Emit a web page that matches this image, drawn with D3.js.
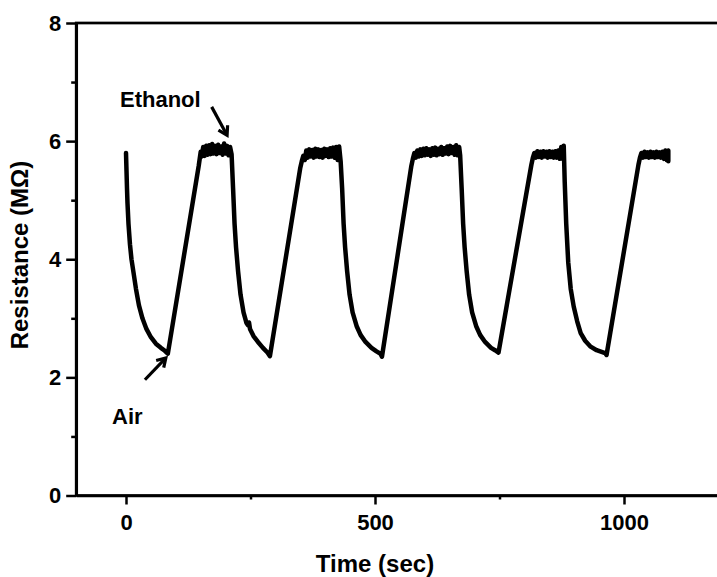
<!DOCTYPE html>
<html lang="en">
    <head>
        <meta charset="utf-8">
        <script src="https://d3js.org/d3.v7.min.js"></script>
        <title>Resistance</title>
        <style>
            body { margin: 0; background: #fff; }
            text { font-family: "Liberation Sans", Arial, sans-serif; font-weight: bold; fill: #000; }
        </style>
    </head>
    <body>
        <div id="chart"></div>
        <script>
            // [time (sec), resistance (MOhm)], one array per air/ethanol cycle
            var cycle1 = [[0,5.80],[1,5.50],[2,5.20],[3,4.95],[5,4.60],[8,4.25],[11,4.00],[15,3.78],[20,3.50],[26,3.22],[33,3.00],[41,2.82],[50,2.68],[60,2.57],[70,2.50],[78,2.45],[84,2.40],
                [146,5.58],[148,5.70],[150,5.82],[152,5.74],[155,5.90],[158,5.75],[161,5.92],[164,5.77],[167,5.93],[170,5.78],[173,5.95],[176,5.79],[179,5.92],[182,5.78],[185,5.94],[188,5.80],[191,5.91],[194,5.77],[197,5.96],[200,5.79],[203,5.92],[206,5.76],[209,5.90],[212,5.78]];
            var cycle2 = [[215,5.20],[218,4.60],[221,4.20],[225,3.80],[230,3.40],[236,3.10],[242,2.92],[245,2.88],[247,2.93],[249,2.82],[256,2.70],[265,2.60],[275,2.50],[284,2.42],[289,2.36],
                [350,5.55],[353,5.66],[356,5.75],[359,5.68],[362,5.84],[365,5.72],[368,5.86],[371,5.74],[374,5.85],[377,5.72],[380,5.87],[383,5.74],[386,5.86],[389,5.73],[392,5.85],[395,5.72],[398,5.87],[401,5.75],[404,5.86],[407,5.73],[410,5.88],[413,5.74],[416,5.89],[419,5.72],[422,5.90],[425,5.68],[428,5.91],[431,5.66]];
            var cycle3 = [[434,5.20],[437,4.60],[440,4.20],[444,3.80],[449,3.40],[455,3.10],[463,2.87],[471,2.72],[481,2.60],[493,2.50],[503,2.44],[511,2.40],[514,2.35],
                [573,5.58],[576,5.70],[579,5.80],[582,5.72],[585,5.84],[588,5.74],[591,5.86],[594,5.75],[597,5.87],[600,5.76],[603,5.88],[606,5.77],[609,5.86],[612,5.75],[615,5.88],[618,5.77],[621,5.89],[624,5.76],[627,5.87],[630,5.78],[633,5.90],[636,5.77],[639,5.88],[642,5.79],[645,5.91],[648,5.78],[651,5.92],[654,5.80],[657,5.90],[660,5.77],[663,5.93],[666,5.76],[669,5.90],[671,5.76]];
            var cycle4 = [[674,5.20],[677,4.60],[680,4.20],[684,3.80],[689,3.40],[695,3.10],[703,2.87],[711,2.72],[721,2.60],[733,2.50],[741,2.46],[748,2.42],
                [814,5.60],[817,5.72],[820,5.80],[823,5.72],[826,5.83],[829,5.73],[832,5.82],[835,5.72],[838,5.83],[841,5.74],[844,5.82],[847,5.72],[850,5.83],[853,5.73],[856,5.82],[859,5.72],[862,5.83],[865,5.72],[868,5.84],[871,5.70],[874,5.90],[877,5.70],[879,5.92]];
            var cycle5 = [[881,5.30],[884,4.60],[888,3.95],[893,3.50],[899,3.20],[906,2.95],[913,2.75],[922,2.62],[933,2.52],[945,2.46],[955,2.43],[962,2.41],[965,2.38],
                [1029,5.60],[1032,5.72],[1035,5.80],[1038,5.72],[1041,5.82],[1044,5.73],[1047,5.81],[1050,5.72],[1053,5.82],[1056,5.73],[1059,5.81],[1062,5.72],[1065,5.82],[1068,5.73],[1071,5.81],[1074,5.72],[1077,5.82],[1080,5.70],[1083,5.84],[1086,5.68],[1089,5.84],[1089,5.66]];

            var xTicks = [0, 500, 1000], xMinor = [250, 750];
            var yTicks = [0, 2, 4, 6, 8], yMinor = [1, 3, 5, 7];

            // annotations, in data units
            var noteText = ["Ethanol", "Air"];
            var notePos = [[-12, 6.58], [-28, 1.21]];
            var arrows = [[[172, 6.58], [203, 6.10]], [[38, 1.96], [80, 2.33]]];

            var margin = {top: 23, left: 76.2},
                width = 647.4,
                height = 472.5;

            var svg = d3.select("#chart")
                .append("svg")
                    .attr("width", 717)
                    .attr("height", 577)
                .append("g")
                    .attr("transform", "translate(" + margin.left + "," + margin.top + ")");

            var x = d3.scaleLinear().domain([-100, 1200]).range([0, width]);
            var y = d3.scaleLinear().domain([0, 8]).range([height, 0]);

            function styleAxis(g, label) {
                g.select(".domain").attr("stroke-width", 2.7);
                g.selectAll(".tick line").attr("stroke-width", 2.5);
                g.selectAll(".tick text").style("font-size", "22px");
                if (!label) g.select(".domain").remove();
            }

            // frame
            svg.append("rect")
                .attr("width", width)
                .attr("height", height)
                .attr("fill", "none")
                .attr("stroke", "#000")
                .attr("stroke-width", 2.7);

            svg.append("g")
                .attr("transform", "translate(0," + height + ")")
                .call(d3.axisBottom(x).tickValues(xMinor).tickSize(4).tickSizeOuter(0).tickFormat(""))
                .call(styleAxis, false);
            svg.append("g")
                .attr("transform", "translate(0," + height + ")")
                .call(d3.axisBottom(x).tickValues(xTicks).tickSize(9).tickSizeOuter(0).tickPadding(10).tickFormat(d3.format("d")))
                .call(styleAxis, true);

            svg.append("g")
                .call(d3.axisLeft(y).tickValues(yMinor).tickSize(5).tickSizeOuter(0).tickFormat(""))
                .call(styleAxis, false);
            svg.append("g")
                .call(d3.axisLeft(y).tickValues(yTicks).tickSize(10).tickSizeOuter(0).tickPadding(5).tickFormat(d3.format("d")))
                .call(styleAxis, true);

            var line = d3.line()
                .x(function(d) { return x(d[0]); })
                .y(function(d) { return y(d[1]); });

            svg.append("path")
                .datum(cycle1.concat(cycle2, cycle3, cycle4, cycle5))
                .attr("d", line)
                .attr("fill", "none")
                .attr("stroke", "#000")
                .attr("stroke-width", 4.5)
                .attr("stroke-linejoin", "round")
                .attr("stroke-linecap", "round");

            // labels and arrows
            svg.selectAll(".note")
                .data(noteText)
                .enter()
                .append("text")
                    .attr("class", "note")
                    .attr("x", function(d, i) { return x(notePos[i][0]); })
                    .attr("y", function(d, i) { return y(notePos[i][1]); })
                    .style("font-size", "22px")
                    .text(function(d) { return d; });

            arrows.forEach(function(a) {
                var x0 = x(a[0][0]), y0 = y(a[0][1]), x1 = x(a[1][0]), y1 = y(a[1][1]);
                var ang = Math.atan2(y1 - y0, x1 - x0), h = 10, s = 0.55;
                svg.append("line")
                    .attr("x1", x0).attr("y1", y0)
                    .attr("x2", x1 - Math.cos(ang) * 2).attr("y2", y1 - Math.sin(ang) * 2)
                    .attr("stroke", "#000")
                    .attr("stroke-width", 3.2);
                svg.append("path")
                    .attr("d", "M" + (x1 - h * Math.cos(ang - s)) + "," + (y1 - h * Math.sin(ang - s)) +
                        "L" + x1 + "," + y1 +
                        "L" + (x1 - h * Math.cos(ang + s)) + "," + (y1 - h * Math.sin(ang + s)))
                    .attr("fill", "none")
                    .attr("stroke", "#000")
                    .attr("stroke-width", 3.2)
                    .attr("stroke-linejoin", "miter");
            });

            svg.append("text")
                .attr("x", x(500))
                .attr("y", 549)
                .attr("text-anchor", "middle")
                .style("font-size", "24px")
                .text("Time (sec)");

            svg.append("text")
                .attr("transform", "translate(" + (28 - margin.left) + "," + (255 - margin.top) + ") rotate(-90)")
                .attr("text-anchor", "middle")
                .style("font-size", "24px")
                .text("Resistance (MΩ)");
        </script>
    </body>
</html>
